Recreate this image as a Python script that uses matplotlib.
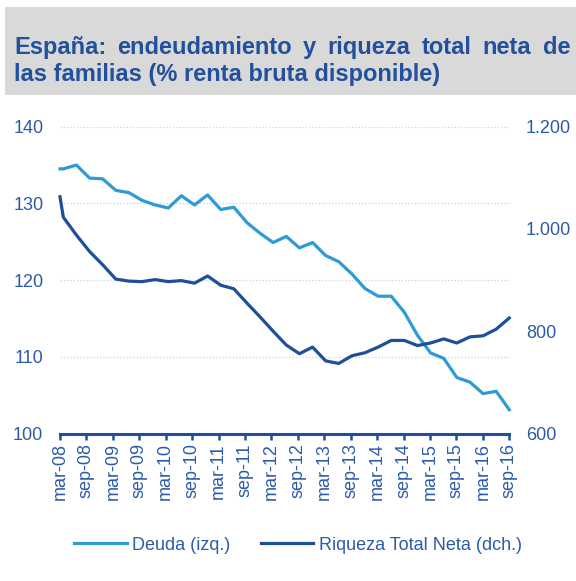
import numpy as np
import matplotlib
matplotlib.use('Agg')
import matplotlib.pyplot as plt
from matplotlib.patches import Rectangle
from matplotlib.lines import Line2D
from matplotlib.ticker import FuncFormatter

plt.rcParams['font.family'] = ['Liberation Sans', 'DejaVu Sans']

# quarterly labels (every second quarter shown)
tick_labels = ['mar-08', 'sep-08', 'mar-09', 'sep-09', 'mar-10', 'sep-10', 'mar-11', 'sep-11',
               'mar-12', 'sep-12', 'mar-13', 'sep-13', 'mar-14', 'sep-14', 'mar-15', 'sep-15',
               'mar-16', 'sep-16']

# Deuda (% renta bruta disponible), left axis
deuda = [134.5, 134.5, 135.0, 133.3, 133.2, 131.7, 131.4, 130.4, 129.8, 129.4, 131.0,
         129.8, 131.1, 129.2, 129.5, 127.5, 126.1, 124.9, 125.7, 124.2, 124.9, 123.2,
         122.4, 120.8, 118.9, 117.9, 117.9, 115.8, 112.8, 110.5, 109.8, 107.3, 106.7,
         105.2, 105.5, 103.1]

# Riqueza total neta (% renta bruta disponible), right axis
riqueza = [1063, 1023, 988, 956, 930, 902, 898, 897, 901, 897, 899, 894, 908, 890, 883,
           855, 828, 800, 773, 756, 769, 742, 737, 752, 758, 769, 782, 782, 772, 777,
           785, 777, 789, 791, 804, 826]

# first observation sits on the mar-08 tick, the rest follow quarterly
pos = np.r_[0, np.linspace(0.25, 34, len(deuda) - 1)]

c_light = '#2E9BD6'
c_dark = '#1F4E9A'
c_text = '#2D5BA8'
c_title = '#22509C'

fig = plt.figure(figsize=(5.76, 5.81), dpi=100)

# grey title band
fig.patches.append(Rectangle((5 / 576, 1 - 95 / 581), 571 / 576, 88 / 581,
                             transform=fig.transFigure, facecolor='#D9D9D9',
                             edgecolor='none', zorder=0))

# title, first line justified across the band
line1 = 'España: endeudamiento y riqueza total neta de'.split()
line2 = 'las familias (% renta bruta disponible)'
tkw = dict(fontsize=17, fontweight='bold', color=c_title, va='baseline')
renderer = fig.canvas.get_renderer()
words = [fig.text(0, 1 - 54 / 581, w, ha='left', **tkw) for w in line1]
widths = [w.get_window_extent(renderer).width for w in words]
x0, x1 = 14, 570
gap = (x1 - x0 - sum(widths)) / (len(words) - 1)
x = x0
for w, wd in zip(words, widths):
    w.set_x(x / 576)
    x += wd + gap
fig.text(14 / 576, 1 - 81 / 581, line2, ha='left', **tkw)

ax = fig.add_axes([60 / 576, 1 - 433.5 / 581, 449.3 / 576, 306.8 / 581])
ax2 = ax.twinx()

ax.plot(pos, deuda, color=c_light, lw=2.3, clip_on=False, zorder=3)
ax2.plot(pos, riqueza, color=c_dark, lw=2.3, clip_on=False, zorder=3)

ax.set_xlim(0, 34)
ax.set_ylim(100, 140)
ax2.set_ylim(600, 1200)
ax.set_yticks([100, 110, 120, 130, 140])
ax2.set_yticks([600, 800, 1000, 1200])
ax2.yaxis.set_major_formatter(FuncFormatter(lambda v, p: f'{v:,.0f}'.replace(',', '.')))

ax.set_xticks(np.arange(0, 35, 2))
ax.set_xticklabels(tick_labels, rotation=90)

for a in (ax, ax2):
    for s in a.spines.values():
        s.set_visible(False)
ax.spines['bottom'].set_visible(True)
ax.spines['bottom'].set_color(c_dark)
ax.spines['bottom'].set_linewidth(2.2)
ax.spines['bottom'].set_zorder(4)

ax.tick_params(axis='x', direction='out', length=4, width=1.8, color=c_dark,
               labelsize=13, labelcolor=c_text, pad=3)
ax.tick_params(axis='y', length=0, labelsize=13, labelcolor=c_text, pad=12)
ax2.tick_params(axis='y', length=0, labelsize=13, labelcolor=c_text, pad=12)

ax.yaxis.grid(True, color='#BDD7EE', linestyle=':', linewidth=0.9)
ax.set_axisbelow(True)

handles = [Line2D([], [], color=c_light, lw=2.3), Line2D([], [], color=c_dark, lw=2.3)]
fig.legend(handles, ['Deuda (izq.)', 'Riqueza Total Neta (dch.)'], loc='center',
           bbox_to_anchor=(298 / 576, 1 - 545 / 581), ncol=2, frameon=False,
           fontsize=13, labelcolor=c_text, handlelength=2.9, handletextpad=0.3,
           columnspacing=1.7)

fig.savefig('out.png', dpi=100)
